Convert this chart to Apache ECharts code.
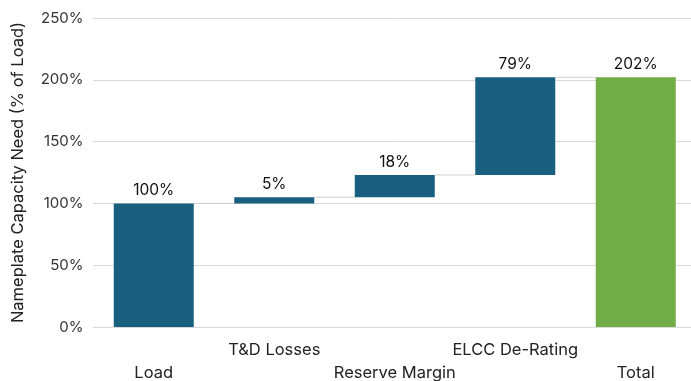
<!DOCTYPE html>
<html>
<head>
<meta charset="utf-8">
<script src="https://cdn.jsdelivr.net/npm/echarts@6/dist/echarts.min.js"></script>
<style>
  html, body { margin: 0; padding: 0; background: #fff; }
  #chart { width: 691px; height: 381px; }
</style>
</head>
<body>
<div id="chart"></div>
<script>
// Waterfall steps from load to total nameplate capacity need
const categories = ['Load', 'T&D Losses', 'Reserve Margin', 'ELCC De-Rating', 'Total'];
const stepValues = [100, 5, 18, 79, 202];
const isTotal = [true, false, false, false, true];
const yTicks = [0, 50, 100, 150, 200, 250];

// Running offsets: totals start at zero, increments stack on the cumulative sum
const bases = [];
let running = 0;
stepValues.forEach((v, i) => {
  if (isTotal[i]) { bases.push(0); running = v; }
  else { bases.push(running); running += v; }
});
const tops = stepValues.map((v, i) => bases[i] + v);

// Connector levels between neighbouring bars
const connectors = [];
for (let i = 0; i < categories.length - 1; i++) connectors.push([i, tops[i]]);

const BLUE = '#185f80';
const GREEN = '#70ad47';
const FONT = 'Inter, "Noto Sans", sans-serif';

const chart = echarts.init(document.getElementById('chart'));
chart.setOption({
  animation: false,
  textStyle: { fontFamily: FONT },
  grid: { left: 93.5, right: -5, top: 18, bottom: 54, containLabel: false, outerBoundsMode: 'none' },
  xAxis: {
    type: 'category',
    data: categories,
    axisLine: { lineStyle: { color: '#d9d9d9' } },
    axisTick: { show: false },
    axisLabel: {
      interval: 0,
      margin: 12,
      fontSize: 16.5,
      lineHeight: 23,
      color: '#222',
      fontFamily: FONT,
      formatter: (v, i) => (i % 2 === 0 ? '\n' + v : v)
    }
  },
  yAxis: {
    type: 'value',
    min: yTicks[0],
    max: yTicks[yTicks.length - 1],
    interval: 50,
    name: 'Nameplate Capacity Need (% of Load)',
    nameLocation: 'middle',
    nameGap: 67,
    nameTextStyle: { fontSize: 16.5, color: '#222', fontFamily: FONT },
    axisLabel: { fontSize: 15, color: '#333', margin: 10, formatter: '{value}%', fontFamily: FONT },
    splitLine: { lineStyle: { color: '#d9d9d9' } }
  },
  series: [
    {
      type: 'bar',
      stack: 'wf',
      data: bases,
      itemStyle: { color: 'transparent' },
      barWidth: 80,
      silent: true
    },
    {
      type: 'bar',
      stack: 'wf',
      barWidth: 80,
      data: stepValues.map((v, i) => ({
        value: v,
        itemStyle: { color: i === categories.length - 1 ? GREEN : BLUE }
      })),
      label: {
        show: true,
        position: 'top',
        distance: 5,
        fontSize: 15.5,
        color: '#111',
        fontFamily: FONT,
        formatter: p => p.value + '%'
      }
    },
    {
      type: 'custom',
      data: connectors,
      z: 1,
      renderItem: (params, api) => {
        const i = api.value(0);
        const level = api.value(1);
        const bw = 40;
        const p1 = api.coord([i, level]);
        const p2 = api.coord([i + 1, level]);
        return {
          type: 'line',
          shape: { x1: p1[0] + bw, y1: p1[1], x2: p2[0] - bw, y2: p2[1] },
          style: { stroke: '#d0d0d0', lineWidth: 1 }
        };
      }
    }
  ]
});
</script>
</body>
</html>
